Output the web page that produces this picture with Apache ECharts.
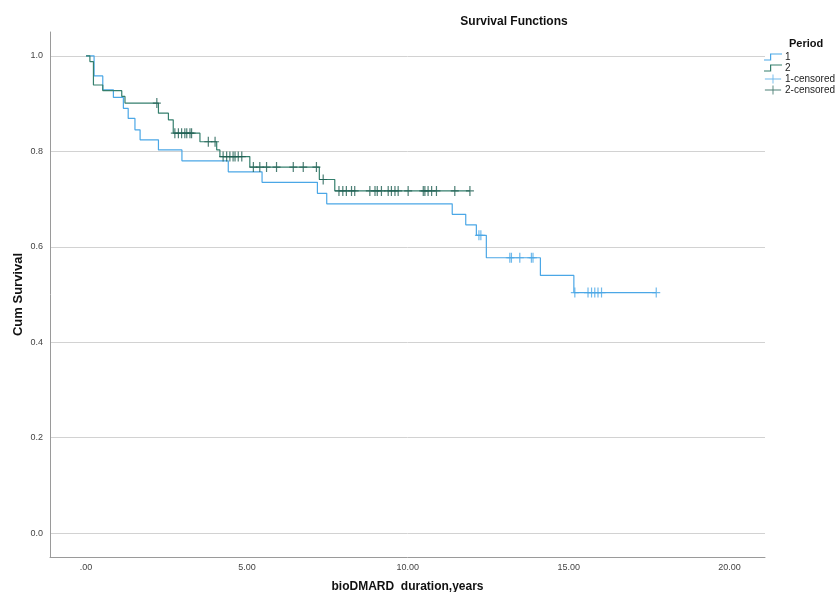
<!DOCTYPE html>
<html>
<head>
<meta charset="utf-8">
<title>Survival Functions</title>
<script src="https://cdn.jsdelivr.net/npm/echarts@6/dist/echarts.min.js"></script>
<style>
    html, body { margin: 0; padding: 0; background: #fff; }
    #main { width: 838px; height: 592px; }
</style>
</head>
<body>
<div id="main"></div>
<script>
// Period 1: event times and survival after each step
var p1Times = [0, 0.25, 0.52, 0.85, 1.16, 1.31, 1.52, 1.68, 2.25, 2.98, 4.42, 5.47, 7.19, 7.48, 11.38, 11.80, 12.13, 12.44, 14.12, 15.16];
var p1Surv = [1, 0.958, 0.929, 0.913, 0.890, 0.869, 0.845, 0.824, 0.803, 0.780, 0.757, 0.735, 0.712, 0.690, 0.668, 0.646, 0.624, 0.577, 0.540, 0.504];
var p1Censored = [12.21, 12.27, 13.17, 13.22, 13.48, 13.84, 13.89, 15.19, 15.60, 15.71, 15.81, 15.91, 16.02, 17.72];

// Period 2
var p2Times = [0, 0.12, 0.23, 0.52, 1.11, 1.21, 2.25, 2.56, 2.71, 3.54, 4.06, 4.16, 5.09, 7.25, 7.73];
var p2Surv = [1, 0.988, 0.939, 0.927, 0.915, 0.901, 0.880, 0.866, 0.838, 0.820, 0.803, 0.789, 0.767, 0.741, 0.717];
var p2Censored = [2.20, 2.76, 2.87, 2.97, 3.07, 3.13, 3.23, 3.28, 3.80, 4.01, 4.26, 4.37, 4.47, 4.57, 4.63, 4.73, 4.84,
    5.20, 5.40, 5.61, 5.92, 6.44, 6.75, 7.16, 7.37, 7.86, 7.98, 8.09, 8.25, 8.35, 8.82, 8.98, 9.05, 9.18, 9.39, 9.49,
    9.60, 9.70, 10.01, 10.48, 10.53, 10.63, 10.74, 10.89, 11.46, 11.93];

// tick labels
var xTicks = [0, 5, 10, 15, 20];
var xTickLabels = [".00", "5.00", "10.00", "15.00", "20.00"];
var yTicks = [0, 0.2, 0.4, 0.6, 0.8, 1.0];
var yTickLabels = ["0.0", "0.2", "0.4", "0.6", "0.8", "1.0"];

var blue = "#4ba7e6";
var green = "#347f6d";
var greenMark = "#1f5f52";

// survival level at time t (step function)
function survAt(times, surv, t) {
    var s = surv[0];
    for (var i = 0; i < times.length; i++) {
        if (times[i] <= t) s = surv[i];
    }
    return s;
}

// line points: every step plus the last censored time
function stepData(times, surv, cens) {
    var d = times.map(function(t, i) { return [t, surv[i]]; });
    var last = cens[cens.length - 1];
    d.push([last, survAt(times, surv, last)]);
    return d;
}

function censData(times, surv, cens) {
    return cens.map(function(t) { return [t, survAt(times, surv, t)]; });
}

var plusSymbol = "path://M0,4.4 h8 v1.2 h-8 z M3.4,0 h1.2 v10 h-1.2 z";
var stepIcon = "path://M0,7 h6 v-6 h12 v1.2 h-10.8 v6 h-7.2 z";
var plusIcon = "path://M0,4.5 h18 v1 h-18 z M8.5,0 h1 v10 h-1 z";

var font = "Liberation Sans, Arial, sans-serif";

var myChart = echarts.init(document.getElementById("main"), null, { renderer: "canvas" });
var option = {
    animation: false,
    backgroundColor: "#fff",
    title: [{
        text: "Survival Functions",
        left: 509,
        top: 11,
        textAlign: "center",
        textStyle: { fontFamily: font, fontSize: 12, fontWeight: "bold", color: "#111" }
    }, {
        text: "Period",
        left: 784,
        top: 33,
        textStyle: { fontFamily: font, fontSize: 11, fontWeight: "bold", color: "#111" }
    }],
    legend: {
        orient: "vertical",
        left: 764,
        top: 52,
        itemWidth: 18,
        itemHeight: 9,
        itemGap: 1,
        padding: 0,
        textStyle: { fontFamily: font, fontSize: 10, color: "#222", padding: [0, 0, 0, -2] },
        data: [
            { name: "1", icon: stepIcon },
            { name: "2", icon: stepIcon },
            { name: "1-censored", icon: plusIcon },
            { name: "2-censored", icon: plusIcon }
        ]
    },
    grid: {
        left: 50,
        right: 73,
        top: 32,
        bottom: 35,
        outerBoundsMode: "none"
    },
    xAxis: {
        type: "value",
        min: -1.12,
        max: 21.1,
        name: "bioDMARD  duration,years",
        nameLocation: "middle",
        nameGap: 24,
        nameMoveOverlap: false,
        nameTextStyle: { fontFamily: font, fontSize: 12, fontWeight: "bold", color: "#111" },
        axisLine: { show: true, onZero: false, lineStyle: { color: "#9a9a9a", width: 1 } },
        axisTick: { show: false, customValues: xTicks },
        axisLabel: {
            customValues: xTicks,
            margin: 6,
            fontFamily: font,
            fontSize: 9,
            color: "#444",
            formatter: function(v) { return xTickLabels[xTicks.indexOf(v)]; }
        },
        splitLine: { show: false }
    },
    yAxis: {
        type: "value",
        min: -0.05,
        max: 1.05,
        name: "Cum Survival",
        nameLocation: "middle",
        nameGap: 25,
        nameMoveOverlap: false,
        nameRotate: 90,
        nameTextStyle: { fontFamily: font, fontSize: 13, fontWeight: "bold", color: "#111" },
        axisLine: { show: true, onZero: false, lineStyle: { color: "#9a9a9a", width: 1 } },
        axisTick: { show: false, customValues: yTicks },
        axisLabel: {
            customValues: yTicks,
            margin: 7,
            fontFamily: font,
            fontSize: 9,
            color: "#444",
            formatter: function(v) {
                var i = yTicks.findIndex(function(t) { return Math.abs(t - v) < 1e-6; });
                return i >= 0 ? yTickLabels[i] : "";
            }
        },
        splitLine: { show: true, lineStyle: { color: "#d2d2d2", width: 1 } }
    },
    series: [{
        name: "1",
        type: "line",
        step: "end",
        showSymbol: false,
        color: blue,
        lineStyle: { width: 1.2, color: blue },
        data: stepData(p1Times, p1Surv, p1Censored),
        z: 2
    }, {
        name: "2",
        type: "line",
        step: "end",
        showSymbol: false,
        color: green,
        lineStyle: { width: 1.2, color: green },
        data: stepData(p2Times, p2Surv, p2Censored),
        z: 3
    }, {
        name: "1-censored",
        type: "scatter",
        symbol: plusSymbol,
        symbolSize: [8, 10],
        color: blue,
        itemStyle: { color: blue },
        data: censData(p1Times, p1Surv, p1Censored),
        z: 4
    }, {
        name: "2-censored",
        type: "scatter",
        symbol: plusSymbol,
        symbolSize: [8, 10],
        color: greenMark,
        itemStyle: { color: greenMark },
        data: censData(p2Times, p2Surv, p2Censored),
        z: 5
    }]
};
myChart.setOption(option);
</script>
</body>
</html>
